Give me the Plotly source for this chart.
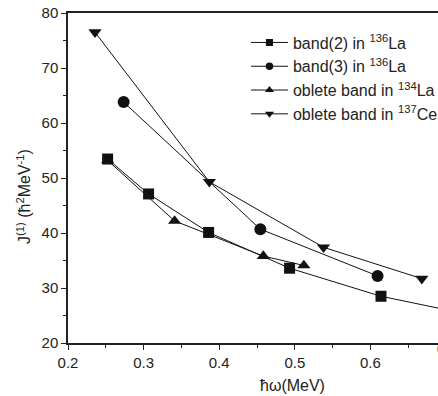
import plotly.graph_objects as go

# band(2) in 136La
sq_x = [0.2524, 0.3066, 0.386, 0.4931, 0.614, 0.73]
sq_y = [53.45, 47.1, 40.1, 33.6, 28.5, 25.2]
# band(3) in 136La
ci_x = [0.2736, 0.4544, 0.6095]
ci_y = [63.8, 40.7, 32.2]
# oblete band in 134La
tu_x = [0.2524, 0.341, 0.4584, 0.512]
tu_y = [53.2, 42.2, 35.8, 34.1]
# oblete band in 137Ce
td_x = [0.2357, 0.387, 0.538, 0.668]
td_y = [76.5, 49.3, 37.4, 31.7]

names = ["band(2) in <sup>136</sup>La", "band(3) in <sup>136</sup>La",
         "oblete band in <sup>134</sup>La", "oblete band in <sup>137</sup>Ce"]

FONT = "Arial, Liberation Sans, Helvetica, sans-serif"
INK = "#111111"

series = [
    (sq_x, sq_y, "square", 11, 7),
    (ci_x, ci_y, "circle", 12, 7.5),
    (tu_x, tu_y, "triangle-up", 11.5, 8),
    (td_x, td_y, "triangle-down", 11.5, 8),
]

fig = go.Figure()
for (xs, ys, sym, sz, lsz), nm in zip(series, names):
    fig.add_trace(go.Scatter(
        x=xs, y=ys, mode="lines+markers", showlegend=False,
        line=dict(color=INK, width=1),
        marker=dict(symbol=sym, size=sz, color=INK),
        cliponaxis=True,
    ))
for (xs, ys, sym, sz, lsz), nm in zip(series, names):
    fig.add_trace(go.Scatter(
        x=[None], y=[None], mode="lines+markers", name=nm,
        line=dict(color=INK, width=1),
        marker=dict(symbol=sym, size=lsz, color=INK),
    ))

axis_common = dict(
    showgrid=False, zeroline=False, showline=True, linecolor="#222222",
    linewidth=1.5, ticks="outside", ticklen=5, tickwidth=1.2, tickcolor="#222222",
    tickfont=dict(family=FONT, size=15, color="#222222"),
)

fig.update_xaxes(
    range=[0.2, 0.2 + 370 / 756], tick0=0.2, dtick=0.1, tickformat=".1f",
    mirror=True,
    minor=dict(dtick=0.05, ticklen=3, ticks="outside", tickcolor="#222222", tickwidth=1.2),
    **axis_common,
)
fig.update_yaxes(
    range=[20, 80], tick0=20, dtick=10,
    minor=dict(dtick=5, ticklen=3, ticks="outside", tickcolor="#222222", tickwidth=1.2),
    **axis_common,
)

fig.add_annotation(
    text="J<sup>(1)</sup> (ħ<sup>2</sup>MeV<sup>-1</sup>)", textangle=-90,
    xref="paper", yref="paper", x=-0.152, y=0.445, showarrow=False,
    font=dict(family=FONT, size=16, color="#222222"),
)
fig.add_annotation(
    text="ħω(MeV)", xref="paper", yref="paper", x=0.608, y=-0.161,
    showarrow=False, font=dict(family=FONT, size=16, color="#222222"),
)
fig.add_annotation(
    text="0.7", xref="paper", yref="paper", x=0.991, xanchor="left", y=-0.0485,
    showarrow=False, font=dict(family=FONT, size=15, color="#222222"),
)

fig.update_layout(
    width=438, height=396,
    margin=dict(l=68, r=0, t=13, b=53, autoexpand=False),
    plot_bgcolor="white", paper_bgcolor="white",
    font=dict(family=FONT, color="#222222"),
    legend=dict(
        x=0.481, y=0.962, xanchor="left", yanchor="top", itemwidth=37,
        bgcolor="rgba(0,0,0,0)", font=dict(family=FONT, size=16, color="#222222"),
        tracegroupgap=0,
    ),
)

fig.write_html(
    "out.html",
    config={"displayModeBar": False},
    post_script="document.body.style.margin='0';document.body.style.overflow='hidden';",
)
